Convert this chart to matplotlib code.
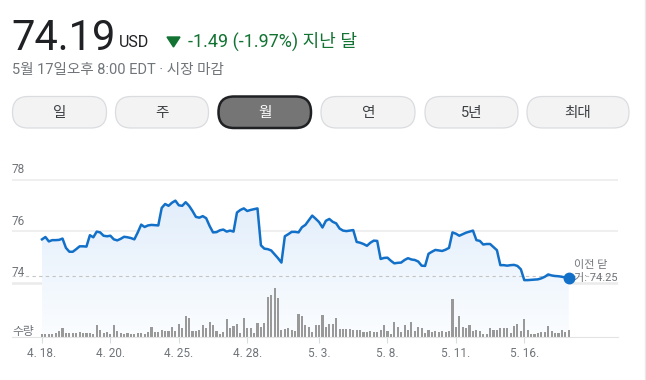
import numpy as np
import matplotlib
matplotlib.use('Agg')
import matplotlib.pyplot as plt
from matplotlib.patches import Polygon, FancyBboxPatch
from matplotlib.colors import LinearSegmentedColormap

plt.rcParams['font.family'] = ['Roboto', 'Noto Sans CJK KR', 'DejaVu Sans']

# 가격 (한 달, 시간별)
price = [
    75.68, 75.77, 75.60, 75.65, 75.65, 75.66, 75.71, 75.35, 75.20, 75.20,
    75.30, 75.41, 75.41, 75.40, 75.84, 75.76, 75.98, 75.95, 75.82, 75.80,
    75.82, 75.68, 75.64, 75.70, 75.78, 75.76, 75.73, 75.68, 75.95, 76.25,
    76.16, 76.22, 76.24, 76.23, 76.22, 76.90, 77.05, 76.98, 77.10, 77.18,
    77.00, 76.98, 77.12, 76.98, 76.78, 76.55, 76.52, 76.58, 76.50, 76.20,
    75.95, 75.96, 76.03, 76.06, 75.98, 76.02, 75.98, 76.72, 76.82, 76.88,
    76.78, 76.82, 76.85, 76.88, 75.45, 75.32, 75.30, 75.25, 75.10, 74.95,
    74.78, 75.80, 75.88, 75.97, 75.97, 75.95, 76.15, 76.24, 76.42, 76.60,
    76.48, 76.35, 76.14, 76.40, 76.47, 76.36, 76.30, 76.10, 76.02, 76.00,
    76.02, 76.04, 75.58, 75.55, 75.50, 75.43, 75.55, 75.63, 75.62, 74.92,
    74.96, 74.97, 74.85, 74.75, 74.77, 74.78, 74.88, 74.95, 74.90, 74.88,
    74.82, 74.66, 74.65, 75.12, 75.20, 75.27, 75.25, 75.23, 75.28, 75.35,
    75.95, 75.90, 75.82, 75.88, 75.94, 75.98, 76.02, 75.65, 75.62, 75.48,
    75.50, 75.50, 75.38, 75.26, 74.68, 74.68, 74.66, 74.68, 74.69, 74.65,
    74.52, 74.10, 74.10, 74.11, 74.12, 74.13, 74.17, 74.23, 74.32, 74.28,
    74.26, 74.25, 74.23, 74.20, 74.19]

# 거래량 (상대값)
volume = [
    9, 9, 9, 9, 12, 18, 27, 12, 12, 12,
    12, 14, 12, 12, 12, 10, 36, 22, 12, 15,
    10, 35, 17, 12, 10, 11, 10, 10, 11, 12,
    10, 14, 30, 14, 14, 20, 17, 18, 31, 17,
    39, 28, 64, 57, 17, 17, 22, 37, 26, 45,
    36, 17, 10, 15, 54, 27, 32, 38, 12, 57,
    28, 26, 12, 42, 29, 42, 121, 126, 149, 119,
    20, 24, 28, 22, 18, 70, 64, 37, 31, 14,
    37, 37, 68, 29, 39, 39, 58, 25, 25, 25,
    23, 22, 20, 22, 14, 16, 18, 14, 14, 22,
    37, 18, 10, 44, 29, 14, 37, 20, 44, 17,
    29, 27, 12, 22, 14, 18, 16, 18, 16, 18,
    116, 30, 64, 29, 27, 37, 19, 22, 17, 10,
    10, 27, 20, 22, 27, 28, 28, 12, 32, 39,
    18, 54, 22, 10, 10, 12, 14, 14, 32, 17,
    12, 12, 20, 15, 22]

tick_idx = [0, 20, 40, 60, 81, 101, 121, 141]
tick_labels = ['4. 18.', '4. 20.', '4. 25.', '4. 28.', '5. 3.', '5. 8.', '5. 11.', '5. 16.']
grid_levels = [78, 76, 74]
prev_close = 74.25
buttons = ['일', '주', '월', '연', '5년', '최대']

idx = np.arange(len(price))
gray = '#70757a'
blue = '#1270c9'
green = '#137333'

fig = plt.figure(figsize=(6.46, 3.80), dpi=100)

# 픽셀 좌표용 배경 축
bg = fig.add_axes([0, 0, 1, 1])
bg.set_xlim(0, 646)
bg.set_ylim(380, 0)
bg.axis('off')

bg.text(11, 49.5, '74.19', fontsize=30, color='#202124', va='baseline')
bg.text(119, 47, 'USD', fontsize=11.5, color='#202124', va='baseline')
bg.add_patch(Polygon([(167, 37), (180, 37), (173.5, 47)], closed=True, color=green))
bg.text(187.5, 47, '-1.49 (-1.97%) 지난 달', fontsize=13, color=green, va='baseline')
bg.text(12, 74, '5월 17일오후 8:00 EDT · 시장 마감', fontsize=10.5, color=gray, va='baseline')

btn_x = [(12.5, 106.5), (115.5, 208.5), (218.5, 311), (321, 415), (425, 518), (527, 629)]
for (x0, x1), lab in zip(btn_x, buttons):
    sel = lab == '월'
    box = FancyBboxPatch((x0, 96.5), x1 - x0, 31.5,
                         boxstyle='round,pad=0,rounding_size=15.5',
                         facecolor='#757575' if sel else '#f3f3f3',
                         edgecolor='#202124' if sel else '#dadce0',
                         linewidth=1.8 if sel else 0.9)
    bg.add_patch(box)
    bg.text((x0 + x1) / 2, 112.5, lab, fontsize=10.5, ha='center', va='center',
            color='white' if sel else '#3c4043')

bg.text(12, 332, '수량', fontsize=8.5, color=gray, va='center')
bg.plot([645, 645], [0, 380], color='#e8e8e8', lw=1)

# 차트 영역
L, R, T, B = 12, 618, 160, 337
rect = [L / 646, 1 - B / 380, (R - L) / 646, (B - T) / 380]

ax = fig.add_axes(rect)
ylo = 71.895
verts = [(idx[0], ylo)] + list(zip(idx, price)) + [(idx[-1], ylo)]
clip = Polygon(verts, closed=True, facecolor='none', edgecolor='none')
ax.add_patch(clip)
cmap = LinearSegmentedColormap.from_list('fade', ['#fbfdff', '#e2eefb'])
grad = np.linspace(1, 0, 256).reshape(-1, 1)
im = ax.imshow(grad, extent=[idx[0], idx[-1], ylo, max(price)], aspect='auto',
               cmap=cmap, zorder=1)
im.set_clip_path(clip)

for v in grid_levels:
    ax.axhline(v, color='#ebebeb', lw=1.8 if v == 74 else 1.1, zorder=0)
    ax.annotate(str(v), xy=(0, v), xycoords=('axes fraction', 'data'),
                xytext=(0, 2.5), textcoords='offset points',
                fontsize=8.5, color=gray, ha='left', va='bottom')
ax.axhline(prev_close, color='#c4c4c4', lw=0.8, ls=(0, (3, 3)), zorder=2)

ax.plot(idx, price, color=blue, lw=1.8, zorder=3)
ax.plot(idx[-1], price[-1], 'o', ms=7.5, color=blue, zorder=4)
ax.annotate('이전 닫', xy=(idx[-1], prev_close), xytext=(4, 7.8), textcoords='offset points',
            fontsize=8, color=gray, ha='left', va='center')
ax.annotate('기: 74.25', xy=(idx[-1], prev_close), xytext=(4, -1.3), textcoords='offset points',
            fontsize=8, color=gray, ha='left', va='center')

ax.set_xlim(-8.77, 168.4)
ax.set_ylim(ylo, 78.756)
ax.axis('off')

# 거래량 막대
axv = fig.add_axes(rect, sharex=ax)
axv.patch.set_alpha(0)
axv.bar(idx, volume, width=0.62, color='#999999')
axv.set_ylim(0, 535)
axv.set_xlim(-8.77, 168.4)
for s in ['top', 'left', 'right']:
    axv.spines[s].set_visible(False)
axv.spines['bottom'].set_color('#e3e3e3')
axv.set_yticks([])
axv.set_xticks(tick_idx, tick_labels)
axv.tick_params(axis='x', length=4, color='#dadce0', labelsize=8.5, labelcolor=gray, pad=3)

fig.savefig('out.png', dpi=100)
